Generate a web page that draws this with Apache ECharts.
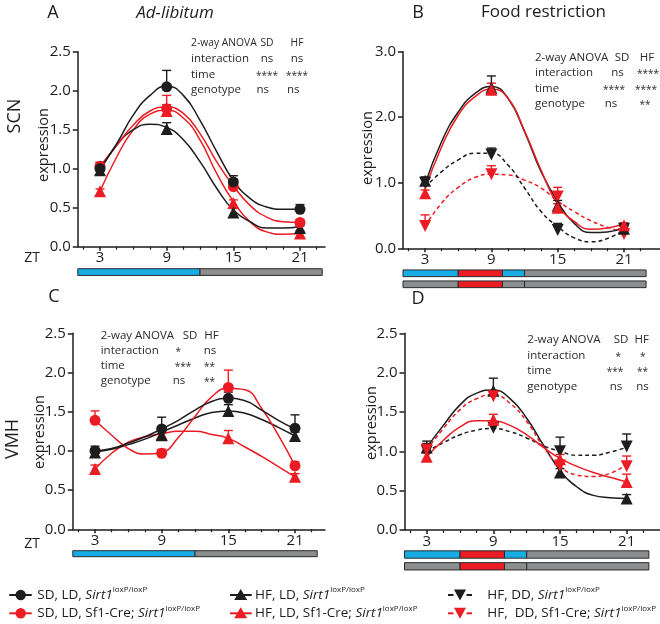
<!DOCTYPE html>
<html><head><meta charset="utf-8">
<script src="https://cdn.jsdelivr.net/npm/echarts@6.0.0/dist/echarts.min.js"></script>
<style>html,body{margin:0;padding:0;background:#fff;}#chart{width:660px;height:624px;}</style>
</head><body><div id="chart"></div>
<script>
// ---------------- data ----------------
const ztPoints = [3, 9, 15, 21];
const curveZT = [3, 4.5, 6, 7.5, 9, 10.5, 12, 13.5, 15, 16.5, 18, 19.5, 21];
const xTickLabels = [3, 9, 15, 21];
const minorTickZT = [1.5, 4.5, 6, 7.5, 10.5, 12, 13.5, 16.5, 18, 19.5, 22.5];

// Panel A: SCN, ad-libitum
const aSdSirt1 = [1.00, 2.05, 0.83, 0.48];
const aSdSirt1Err = [0.08, 0.21, 0.08, 0.06];
const aSdSirt1Fit = [1.00, 1.32, 1.69, 1.94, 2.06, 1.94, 1.62, 1.22, 0.85, 0.62, 0.51, 0.48, 0.48];
const aSdSf1 = [1.03, 1.77, 0.77, 0.31];
const aSdSf1Err = [0.05, 0.17, 0.05, 0.04];
const aSdSf1Fit = [1.03, 1.30, 1.56, 1.74, 1.79, 1.71, 1.45, 1.09, 0.78, 0.53, 0.38, 0.32, 0.31];
const aHfSirt1 = [0.98, 1.51, 0.44, 0.24];
const aHfSirt1Err = [0.05, 0.08, 0.05, 0.03];
const aHfSirt1Fit = [0.98, 1.30, 1.50, 1.57, 1.53, 1.37, 1.09, 0.75, 0.47, 0.32, 0.24, 0.24, 0.26];
const aHfSf1 = [0.71, 1.74, 0.56, 0.17];
const aHfSf1Err = [0.03, 0.08, 0.04, 0.03];
const aHfSf1Fit = [0.71, 1.15, 1.50, 1.70, 1.75, 1.65, 1.37, 0.94, 0.58, 0.32, 0.19, 0.16, 0.17];

// Panel B: SCN, food restriction
const bLdSirt1 = [1.03, 2.45, 0.65, 0.30];
const bLdSirt1Err = [0.06, 0.18, 0.08, 0.04];
const bLdSirt1Fit = [0.98, 1.63, 2.08, 2.36, 2.47, 2.29, 1.78, 1.17, 0.71, 0.38, 0.24, 0.25, 0.32];
const bLdSf1 = [0.84, 2.42, 0.62, 0.35];
const bLdSf1Err = [0.05, 0.10, 0.06, 0.04];
const bLdSf1Fit = [0.90, 1.55, 2.03, 2.31, 2.43, 2.29, 1.79, 1.19, 0.67, 0.41, 0.29, 0.31, 0.37];
const bDdSirt1 = [1.00, 1.43, 0.28, 0.30];
const bDdSirt1Err = [0.06, 0.10, 0.10, 0.04];
const bDdSirt1Fit = [0.93, 1.17, 1.35, 1.45, 1.45, 1.27, 0.92, 0.56, 0.33, 0.16, 0.10, 0.15, 0.28];
const bDdSf1 = [0.34, 1.13, 0.79, 0.22];
const bDdSf1Err = [0.17, 0.13, 0.14, 0.05];
const bDdSf1Fit = [0.34, 0.69, 0.93, 1.08, 1.13, 1.12, 1.04, 0.92, 0.72, 0.56, 0.42, 0.32, 0.24];

// Panel C: VMH, ad-libitum
const cSdSirt1 = [1.00, 1.28, 1.67, 1.29];
const cSdSirt1Err = [0.06, 0.15, 0.08, 0.17];
const cSdSirt1Fit = [1.00, 1.03, 1.10, 1.18, 1.28, 1.39, 1.52, 1.63, 1.67, 1.64, 1.52, 1.39, 1.28];
const cSdSf1 = [1.39, 0.97, 1.81, 0.81];
const cSdSf1Err = [0.12, 0.05, 0.22, 0.05];
const cSdSf1Fit = [1.39, 1.20, 1.03, 0.96, 0.98, 1.17, 1.44, 1.69, 1.80, 1.78, 1.54, 1.20, 0.81];
const cHfSirt1 = [0.98, 1.20, 1.51, 1.19];
const cHfSirt1Err = [0.05, 0.10, 0.08, 0.05];
const cHfSirt1Fit = [0.99, 1.02, 1.08, 1.15, 1.24, 1.33, 1.42, 1.49, 1.51, 1.48, 1.40, 1.30, 1.19];
const cHfSf1 = [0.77, 1.21, 1.16, 0.67];
const cHfSf1Err = [0.05, 0.05, 0.10, 0.04];
const cHfSf1Fit = [0.77, 0.97, 1.11, 1.18, 1.22, 1.25, 1.25, 1.21, 1.16, 1.05, 0.93, 0.80, 0.67];

// Panel D: VMH, food restriction
const dLdSirt1 = [1.05, 1.77, 0.73, 0.40];
const dLdSirt1Err = [0.08, 0.16, 0.05, 0.05];
const dLdSirt1Fit = [1.05, 1.33, 1.59, 1.74, 1.78, 1.67, 1.42, 1.08, 0.76, 0.55, 0.44, 0.41, 0.40];
const dLdSf1 = [0.93, 1.40, 0.90, 0.61];
const dLdSf1Err = [0.05, 0.07, 0.06, 0.10];
const dLdSf1Fit = [0.93, 1.14, 1.31, 1.39, 1.39, 1.33, 1.21, 1.05, 0.91, 0.81, 0.73, 0.67, 0.61];
const dDdSirt1 = [1.00, 1.30, 1.00, 1.06];
const dDdSirt1Err = [0.10, 0.05, 0.18, 0.16];
const dDdSirt1Fit = [1.00, 1.11, 1.21, 1.27, 1.29, 1.25, 1.17, 1.07, 1.00, 0.95, 0.95, 0.99, 1.05];
const dDdSf1 = [1.02, 1.70, 0.82, 0.81];
const dDdSf1Err = [0.04, 0.05, 0.05, 0.13];
const dDdSf1Fit = [1.02, 1.29, 1.53, 1.67, 1.72, 1.61, 1.38, 1.06, 0.81, 0.70, 0.68, 0.72, 0.83];

// light / feeding schedule bars: [startZT, endZT, row, phase]
const scheduleAdLib = [[1, 12, 0, 'light'], [12, 23, 0, 'dark']];
const scheduleFR = [
  [1, 6, 0, 'light'], [6, 10, 0, 'food'], [10, 12, 0, 'light'], [12, 23, 0, 'dark'],
  [1, 6, 1, 'dark'], [6, 10, 1, 'food'], [10, 12, 1, 'dark'], [12, 23, 1, 'dark']
];

// ANOVA tables
const anovaRows = ['2-way ANOVA', 'interaction', 'time', 'genotype'];
const anovaHeads = ['SD', 'HF'];
const aAnova = [['ns', 'ns'], ['****', '****'], ['ns', 'ns']];
const bAnova = [['ns', '****'], ['****', '****'], ['ns', '**']];
const cAnova = [['*', 'ns'], ['***', '**'], ['ns', '**']];
const dAnova = [['*', '*'], ['***', '**'], ['ns', 'ns']];

// legend labels
const legendLabels = [
  ['SD, LD, ', 'Sirt1', 'loxP/loxP'],
  ['HF, LD, ', 'Sirt1', 'loxP/loxP'],
  ['HF, DD, ', 'Sirt1', 'loxP/loxP'],
  ['SD, LD, Sf1-Cre; ', 'Sirt1', 'loxP/loxP'],
  ['HF, LD, Sf1-Cre; ', 'Sirt1', 'loxP/loxP'],
  ['HF,  DD, Sf1-Cre; ', 'Sirt1', 'loxP/loxP']
];

// ---------------- styling / layout ----------------
const FONT = '"Open Sans", "Liberation Sans", sans-serif';
const BLACK = '#1e1c1d';
const RED = '#ec1c24';
const phaseColor = { light: '#17ade4', dark: '#8b8d8f', food: '#ec1c24' };

const grids = [], xAxes = [], yAxes = [], series = [], graphics = [];

function errRender(color) {
  return function (params, api) {
    const p0 = api.coord([api.value(0), api.value(1)]);
    const p1 = api.coord([api.value(0), api.value(2)]);
    const cw = 4.5;
    return {
      type: 'group', children: [
        { type: 'line', shape: { x1: p0[0], y1: p0[1], x2: p1[0], y2: p1[1] }, style: { stroke: color, lineWidth: 1.4 } },
        { type: 'line', shape: { x1: p1[0] - cw, y1: p1[1], x2: p1[0] + cw, y2: p1[1] }, style: { stroke: color, lineWidth: 1.4 } }
      ]
    };
  };
}
function barRender(segs, frac) {
  return function (params, api) {
    const s = api.coord([api.value(0), api.value(2)]);
    const e = api.coord([api.value(1), api.value(2)]);
    const band = api.size([0, 1])[1];
    const h = band * frac;
    return {
      type: 'rect',
      shape: { x: s[0], y: s[1] - h / 2, width: e[0] - s[0], height: h },
      style: { fill: phaseColor[segs[params.dataIndex][3]], stroke: '#2a2a2a', lineWidth: 1 }
    };
  };
}

function addPanel(cfg) {
  const gi = grids.length;
  grids.push(Object.assign({ containLabel: false, outerBoundsMode: 'none' }, cfg.plot));
  const xi = xAxes.length;
  xAxes.push({
    gridIndex: gi, type: 'value', position: 'bottom', min: 1, max: cfg.xMax,
    axisLine: { lineStyle: { color: BLACK, width: 1.5 } },
    axisTick: { customValues: xTickLabels, length: 4, lineStyle: { color: BLACK, width: 1.5 } },
    axisLabel: { customValues: xTickLabels, fontSize: 15, fontFamily: FONT, color: BLACK, margin: 4 },
    splitLine: { show: false }
  });
  xAxes.push({
    gridIndex: gi, type: 'value', position: 'bottom', min: 1, max: cfg.xMax,
    axisLine: { show: false },
    axisTick: { customValues: minorTickZT, length: 3, lineStyle: { color: BLACK, width: 1.2 } },
    axisLabel: { show: false }, splitLine: { show: false }
  });
  const yi = yAxes.length;
  yAxes.push({
    gridIndex: gi, type: 'value', min: 0, max: cfg.yMax, interval: cfg.yStep,
    axisLine: { show: true, lineStyle: { color: BLACK, width: 1.5 } },
    axisTick: { show: true, length: 5, lineStyle: { color: BLACK, width: 1.5 } },
    axisLabel: { fontSize: 15, fontFamily: FONT, color: BLACK, margin: 7, formatter: v => v.toFixed(1) },
    splitLine: { show: false }
  });
  cfg.groups.forEach(g => {
    series.push({
      type: 'line', xAxisIndex: xi, yAxisIndex: yi, silent: true, z: 2,
      data: curveZT.map((x, i) => [x, g.fit[i]]), smooth: 0.5, symbol: 'none',
      lineStyle: { color: g.color, width: 1.5, type: g.dashed ? [4, 3] : 'solid' }
    });
  });
  cfg.groups.forEach(g => {
    series.push({
      type: 'custom', xAxisIndex: xi, yAxisIndex: yi, z: 3, silent: true,
      data: ztPoints.map((x, i) => [x, g.vals[i], g.vals[i] + g.err[i]]),
      renderItem: errRender(g.color)
    });
  });
  cfg.groups.forEach(g => {
    series.push({
      type: 'scatter', xAxisIndex: xi, yAxisIndex: yi, z: 4,
      data: ztPoints.map((x, i) => [x, g.vals[i]]),
      symbol: g.symbol === 'circle' ? 'circle' : 'triangle',
      symbolRotate: g.symbol === 'down' ? 180 : 0,
      symbolSize: g.symbol === 'circle' ? 11 : 12,
      itemStyle: { color: g.color, opacity: 1 }
    });
  });
  // schedule bar
  const bg = grids.length;
  grids.push({ left: cfg.plot.left, width: cfg.plot.width, top: cfg.bar.top, height: cfg.bar.height, containLabel: false, outerBoundsMode: 'none' });
  const bx = xAxes.length;
  xAxes.push({ gridIndex: bg, type: 'value', min: 1, max: cfg.xMax, show: false });
  const by = yAxes.length;
  yAxes.push({ gridIndex: bg, type: 'category', data: cfg.bar.rows, inverse: true, show: false });
  series.push({
    type: 'custom', xAxisIndex: bx, yAxisIndex: by, silent: true,
    data: cfg.bar.segs.map(s => [s[0], s[1], s[2]]),
    renderItem: barRender(cfg.bar.segs, cfg.bar.frac)
  });
  // ANOVA table
  const an = cfg.anova;
  const tstyle = (txt, align, size) => ({ text: txt, fontSize: size || 11.5, fontFamily: FONT, fill: '#2b2b2b', align: align, verticalAlign: 'middle' });
  anovaRows.forEach((r, k) => graphics.push({ type: 'text', x: an.x0, y: an.rows[k], style: tstyle(r, 'left', k === 0 ? an.headSize : null) }));
  anovaHeads.forEach((h, k) => graphics.push({ type: 'text', x: an.head[k], y: an.rows[0], style: tstyle(h, 'center', an.headSize) }));
  cfg.anovaVals.forEach((row, r) => row.forEach((v, k) =>
    graphics.push({ type: 'text', x: an.vals[r][k], y: an.rows[r + 1] + (v.charAt(0) === '*' ? 1.5 : 0),
      style: tstyle(v, 'center', v.charAt(0) === '*' ? 10 : null) })));
}

const grpA = [
  { vals: aHfSf1, err: aHfSf1Err, fit: aHfSf1Fit, color: RED, symbol: 'triangle' },
  { vals: aHfSirt1, err: aHfSirt1Err, fit: aHfSirt1Fit, color: BLACK, symbol: 'triangle' },
  { vals: aSdSf1, err: aSdSf1Err, fit: aSdSf1Fit, color: RED, symbol: 'circle' },
  { vals: aSdSirt1, err: aSdSirt1Err, fit: aSdSirt1Fit, color: BLACK, symbol: 'circle' }
];
const grpB = [
  { vals: bDdSf1, err: bDdSf1Err, fit: bDdSf1Fit, color: RED, symbol: 'down', dashed: true },
  { vals: bDdSirt1, err: bDdSirt1Err, fit: bDdSirt1Fit, color: BLACK, symbol: 'down', dashed: true },
  { vals: bLdSirt1, err: bLdSirt1Err, fit: bLdSirt1Fit, color: BLACK, symbol: 'triangle' },
  { vals: bLdSf1, err: bLdSf1Err, fit: bLdSf1Fit, color: RED, symbol: 'triangle' }
];
const grpC = [
  { vals: cHfSf1, err: cHfSf1Err, fit: cHfSf1Fit, color: RED, symbol: 'triangle' },
  { vals: cHfSirt1, err: cHfSirt1Err, fit: cHfSirt1Fit, color: BLACK, symbol: 'triangle' },
  { vals: cSdSf1, err: cSdSf1Err, fit: cSdSf1Fit, color: RED, symbol: 'circle' },
  { vals: cSdSirt1, err: cSdSirt1Err, fit: cSdSirt1Fit, color: BLACK, symbol: 'circle' }
];
const grpD = [
  { vals: dDdSirt1, err: dDdSirt1Err, fit: dDdSirt1Fit, color: BLACK, symbol: 'down', dashed: true },
  { vals: dLdSirt1, err: dLdSirt1Err, fit: dLdSirt1Fit, color: BLACK, symbol: 'triangle' },
  { vals: dLdSf1, err: dLdSf1Err, fit: dLdSf1Fit, color: RED, symbol: 'triangle' },
  { vals: dDdSf1, err: dDdSf1Err, fit: dDdSf1Fit, color: RED, symbol: 'down', dashed: true }
];

addPanel({
  plot: { left: 77.8, top: 51.7, width: 247.2, height: 195 }, xMax: 23.25, yMax: 2.5, yStep: 0.5,
  bar: { top: 268.7, height: 6.7, frac: 1, rows: ['LD'], segs: scheduleAdLib },
  groups: grpA, anovaVals: aAnova,
  anova: { x0: 191, headSize: 10.3, rows: [43.5, 59, 74.3, 89.5], head: [267, 297], vals: [[267, 297], [267, 297], [262.7, 293.3]] }
});
addPanel({
  plot: { left: 403, top: 51.7, width: 257, height: 196.6 }, xMax: 24.26, yMax: 3, yStep: 1,
  bar: { top: 267.8, height: 22, frac: 0.61, rows: ['LD', 'DD'], segs: scheduleFR },
  groups: grpB, anovaVals: bAnova,
  anova: { x0: 535, rows: [57.7, 72.7, 88.3, 104], head: [622, 647], vals: [[617.5, 648], [614, 646], [611, 645]] }
});
addPanel({
  plot: { left: 72.8, top: 333.3, width: 252.2, height: 196 }, xMax: 23.7, yMax: 2.5, yStep: 0.5,
  bar: { top: 550.7, height: 6, frac: 1, rows: ['LD'], segs: scheduleAdLib },
  groups: grpC, anovaVals: cAnova,
  anova: { x0: 100.7, rows: [335.7, 350.7, 365.7, 381], head: [190, 211.5], vals: [[178.3, 210], [183, 209.5], [179, 209.5]] }
});
addPanel({
  plot: { left: 404.5, top: 333.3, width: 255.5, height: 196.7 }, xMax: 24, yMax: 2.5, yStep: 0.5,
  bar: { top: 548.6, height: 23.6, frac: 0.62, rows: ['LD', 'DD'], segs: scheduleFR },
  groups: grpD, anovaVals: dAnova,
  anova: { x0: 527.3, rows: [340, 355.7, 371, 386.7], head: [621, 641.7], vals: [[618.3, 642.7], [615, 642.5], [616, 642.5]] }
});

// titles and axis names
function txt(t, x, y, size, extra) {
  graphics.push(Object.assign({ type: 'text', x: x, y: y,
    style: { text: t, fontSize: size, fontFamily: FONT, fill: BLACK, align: 'center', verticalAlign: 'middle' } }, extra || {}));
}
txt('A', 53, 13, 18);
graphics.push({ type: 'text', x: 175, y: 13, style: { text: 'Ad-libitum', fontSize: 17, fontStyle: 'italic', fontFamily: FONT, fill: BLACK, align: 'center', verticalAlign: 'middle' } });
txt('B', 418, 13, 18);
txt('Food restriction', 543.5, 12, 17);
txt('C', 54, 297, 18);
txt('D', 418, 299, 18);
txt('SCN', 15, 116, 18, { rotation: Math.PI / 2 });
txt('VMH', 13, 439, 18, { rotation: Math.PI / 2 });
txt('expression', 44, 145, 14.5, { rotation: Math.PI / 2 });
txt('expression', 368, 148, 14.5, { rotation: Math.PI / 2 });
txt('expression', 40, 432, 14.5, { rotation: Math.PI / 2 });
txt('expression', 372, 423, 14.5, { rotation: Math.PI / 2 });
txt('ZT', 32, 258, 14);
txt('ZT', 32, 544, 14);

// legend (drawn as graphic)
const legRows = [595, 613.3];
const legCols = [
  { segs: [[9.3, 31.7]], sx: 20.7, tx: 37.3, sym: 'circle' },
  { segs: [[230, 251.7]], sx: 240.7, tx: 255, sym: 'triangle' },
  { segs: [[448, 453.5], [466.5, 472]], sx: 460, tx: 487.3, sym: 'down' }
];
const rich = {
  n: { fontSize: 13.5, fontFamily: FONT, fill: BLACK, lineHeight: 18 },
  i: { fontSize: 13.5, fontFamily: FONT, fontStyle: 'italic', fill: BLACK, lineHeight: 18 },
  s: { fontSize: 8, fontFamily: FONT, fill: BLACK, lineHeight: 9, verticalAlign: 'top' }
};
legendLabels.forEach((lab, idx) => {
  const r = Math.floor(idx / 3), c = idx % 3;
  const col = legCols[c], y = legRows[r];
  const color = r === 0 ? BLACK : RED;
  col.segs.forEach(sg => graphics.push({ type: 'line', shape: { x1: sg[0], y1: y, x2: sg[1], y2: y },
    style: { stroke: color, lineWidth: 2 } }));
  if (col.sym === 'circle') {
    graphics.push({ type: 'circle', shape: { cx: col.sx, cy: y, r: 5.2 }, style: { fill: color } });
  } else if (col.sym === 'triangle') {
    graphics.push({ type: 'polygon', shape: { points: [[col.sx - 6.5, y + 5], [col.sx + 6.5, y + 5], [col.sx, y - 6]] }, style: { fill: color } });
  } else {
    graphics.push({ type: 'polygon', shape: { points: [[col.sx - 6, y - 5.5], [col.sx + 6, y - 5.5], [col.sx, y + 5.5]] }, style: { fill: color } });
  }
  graphics.push({ type: 'text', x: col.tx, y: y,
    style: { text: '{n|' + lab[0] + '}{i|' + lab[1] + '}{s|' + lab[2] + '}', rich: rich, align: 'left', verticalAlign: 'middle' } });
});

const chart = echarts.init(document.getElementById('chart'), null, { renderer: 'canvas' });
chart.setOption({
  animation: false,
  backgroundColor: '#ffffff',
  grid: grids, xAxis: xAxes, yAxis: yAxes, series: series, graphic: graphics
});
</script></body></html>
